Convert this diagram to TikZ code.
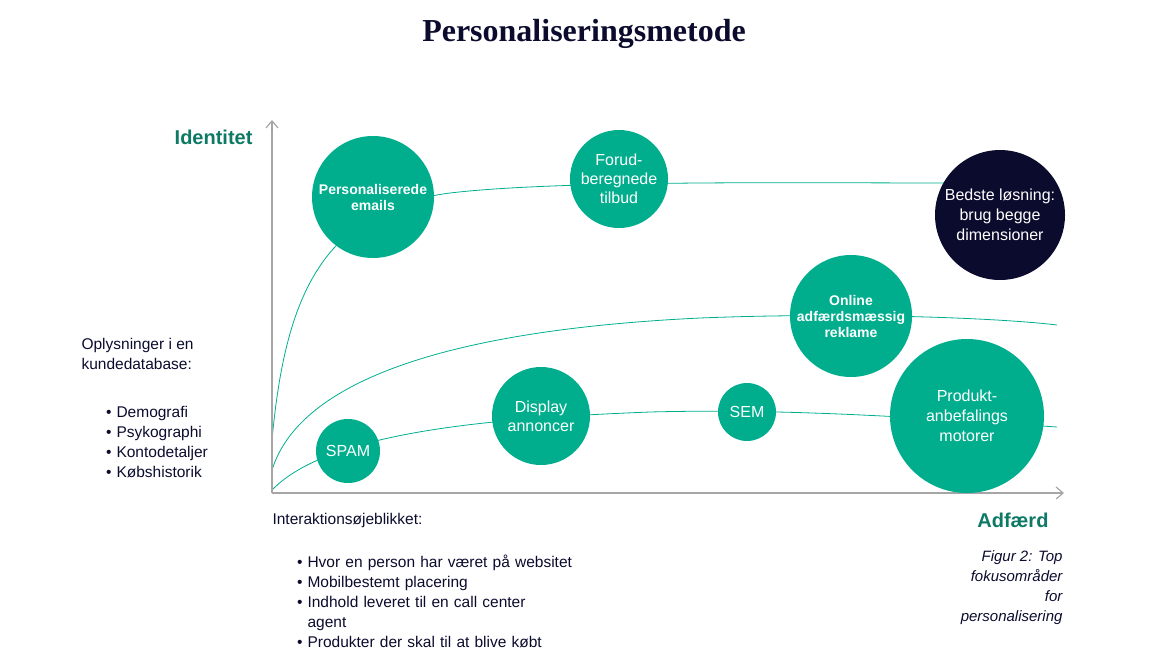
\documentclass[tikz,border=0pt]{standalone}
\usepackage{fontspec}
\setmainfont{Liberation Sans}
\newfontfamily\titlefont{Liberation Serif}
\usetikzlibrary{arrows.meta}
\definecolor{teal1}{HTML}{00AE8E}
\definecolor{navy}{HTML}{0B0B2E}
\definecolor{tealtxt}{HTML}{0E7A66}
\tikzset{
 bub/.style={circle,fill=teal1,text=white,align=center,inner sep=0pt,font=\fontsize{14}{16}\selectfont\bfseries},
 crv/.style={draw=teal1,line width=0.8pt},
 ax/.style={draw=gray!70,line width=1.2pt,-{Straight Barb[length=7pt,width=12pt]}},
 body/.style={font=\fontsize{15.5}{20}\selectfont,text=navy,align=left,anchor=north west}
}
\begin{document}
\begin{tikzpicture}[x=1pt,y=-1pt]
\useasboundingbox (0,0) rectangle (1166,656);
\node[font=\titlefont\fontsize{32}{36}\selectfont\bfseries,text=navy] (title) at (584,34) {Personaliseringsmetode};
\coordinate (o) at (272,493);
\coordinate (yt) at (272,120);
\coordinate (xt) at (1064,493);
% curves
\draw[crv] (272,440) .. controls (285,300) and (320,210) .. (450,193) .. controls (560,180) and (800,183) .. (950,183);
\draw[crv] (272,470) .. controls (300,380) and (450,330) .. (700,318) .. controls (850,312) and (1000,318) .. (1057,325);
\draw[crv] (272,490) .. controls (330,430) and (500,418) .. (650,412) .. controls (800,408) and (950,420) .. (1057,427);
\draw[ax] (o) -- (yt);
\draw[ax] (o) -- (xt);
% bubbles
\node[bub,minimum size=122pt] (pe) at (373,197) {Personaliserede\\emails};
\node[bub,minimum size=98pt,font=\fontsize{16}{19}\selectfont] (ft) at (619,179) {Forud-\\beregnede\\tilbud};
\node[bub,fill=navy,minimum size=130pt,font=\fontsize{16}{20}\selectfont] (bl) at (1000,215) {Bedste løsning:\\brug begge\\dimensioner};
\node[bub,minimum size=122pt] (oa) at (851,316) {Online\\adfærdsmæssig\\reklame};
\node[bub,minimum size=64pt,font=\fontsize{16}{19}\selectfont] (sp) at (348,451) {SPAM};
\node[bub,minimum size=98pt,font=\fontsize{16}{19}\selectfont] (da) at (541,416) {Display\\annoncer};
\node[bub,minimum size=58pt,font=\fontsize{16}{19}\selectfont] (se) at (747,412) {SEM};
\node[bub,minimum size=154pt,font=\fontsize{16}{20}\selectfont] (pm) at (967,416) {Produkt-\\anbefalings\\motorer};
% axis labels
\node[font=\fontsize{20}{24}\selectfont\bfseries,text=tealtxt,anchor=east] (id) at (256,137) {Identitet};
\node[font=\fontsize{20}{24}\selectfont\bfseries,text=tealtxt,anchor=east] (ad) at (1052,520) {Adfærd};
% left text
\node[body] (lt) at (78,335) {Oplysninger i en\\kundedatabase:};
\node[body,text width=150pt] (ll) at (88,386) {\begin{itemize}\setlength\itemsep{-4pt}\setlength\leftmargin{0pt}\item Demografi\item Psykographi\item Kontodetaljer\item Købshistorik\end{itemize}};
\node[body] (bt) at (269,510) {Interaktionsøjeblikket:};
\node[body,text width=320pt] (bl2) at (279,536) {\begin{itemize}\setlength\itemsep{-4pt}\item Hvor en person har været på websitet\item Mobilbestemt placering\item Indhold leveret til en call center\\agent\item Produkter der skal til at blive købt\end{itemize}};
\node[font=\fontsize{15}{20}\selectfont\itshape,text=navy,align=right,anchor=north east] (fig) at (1066,547) {Figur 2: Top\\fokusområder\\for\\personalisering};
\end{tikzpicture}
\end{document}
